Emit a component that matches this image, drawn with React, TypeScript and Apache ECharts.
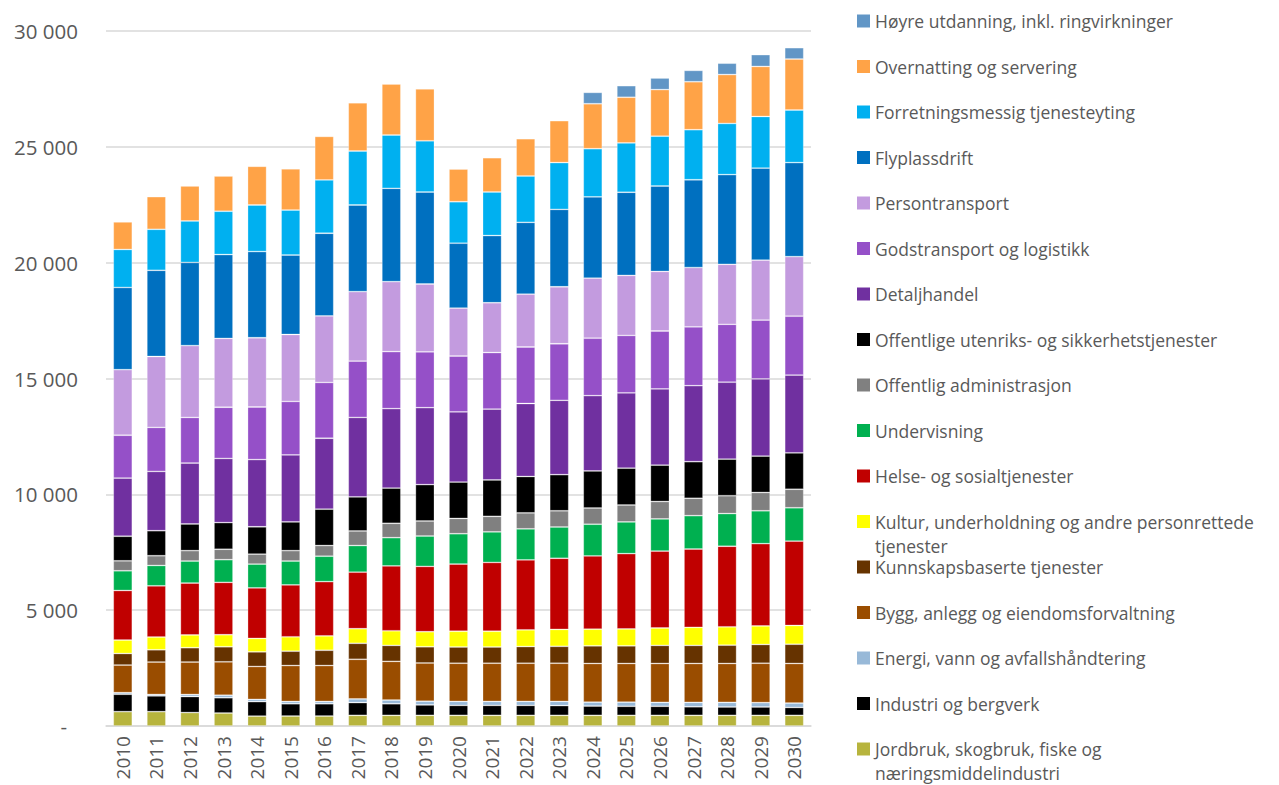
import React, { useEffect, useRef } from 'react';
import * as echarts from 'echarts';

const years = ['2010','2011','2012','2013','2014','2015','2016','2017','2018','2019','2020','2021','2022','2023','2024','2025','2026','2027','2028','2029','2030'];

const yTicks = [0, 5000, 10000, 15000, 20000, 25000, 30000];

// Series values, bottom of stack first
const jordbruk = [620,620,580,560,430,430,430,460,460,460,460,460,460,460,460,460,460,460,460,460,460];
const industri = [750,680,690,660,620,530,530,550,500,450,430,430,430,420,400,390,390,370,360,360,340];
const energi = [70,60,90,110,100,100,100,160,160,160,170,170,170,180,170,180,170,190,200,190,190];
const bygg = [1190,1400,1400,1440,1420,1550,1550,1710,1670,1650,1650,1650,1650,1650,1670,1670,1680,1680,1680,1700,1710];
const kunnskap = [500,530,620,650,630,620,660,690,690,700,700,700,720,730,760,760,780,780,790,810,830];
const kultur = [580,550,550,520,580,620,620,630,630,650,680,680,720,730,720,730,750,780,790,800,810];
const helse = [2140,2210,2240,2260,2180,2240,2340,2440,2800,2820,2900,2970,3020,3070,3160,3250,3320,3380,3480,3550,3640];
const undervisning = [850,880,950,980,1030,1030,1100,1150,1220,1310,1310,1320,1340,1350,1370,1370,1390,1440,1410,1420,1440];
const offAdmin = [430,420,450,450,430,450,460,630,620,650,660,670,690,700,700,730,750,750,770,790,800];
const offUtenriks = [1060,1080,1150,1150,1180,1240,1570,1470,1520,1570,1570,1570,1570,1560,1600,1590,1570,1580,1580,1570,1570];
const detaljhandel = [2510,2560,2630,2770,2900,2890,3060,3430,3430,3320,3030,3060,3150,3210,3250,3250,3290,3280,3320,3330,3360];
const godstransport = [1850,1900,1970,2210,2270,2310,2410,2430,2460,2410,2410,2440,2440,2440,2480,2480,2500,2540,2500,2540,2540];
const persontransport = [2830,3060,3100,2970,2990,2890,2870,3000,3020,2930,2070,2150,2280,2460,2590,2590,2570,2560,2590,2590,2570];
const flyplass = [3550,3720,3590,3620,3720,3430,3570,3740,4030,3970,2800,2900,3100,3340,3510,3590,3690,3790,3870,3970,4060];
const forretning = [1640,1770,1790,1870,2010,1940,2300,2330,2300,2210,1790,1880,2000,2020,2080,2130,2150,2160,2210,2230,2270];
const overnatting = [1190,1410,1510,1520,1670,1780,1880,2080,2200,2240,1410,1480,1610,1810,1940,1970,2010,2070,2110,2160,2200];
const hoyreUtd = [null,null,null,null,null,null,null,null,null,null,null,null,null,null,490,500,500,490,490,510,490];

const seriesNames = [
  'Jordbruk, skogbruk, fiske og\nnæringsmiddelindustri',
  'Industri og bergverk',
  'Energi, vann og avfallshåndtering',
  'Bygg, anlegg og eiendomsforvaltning',
  'Kunnskapsbaserte tjenester',
  'Kultur, underholdning og andre personrettede\ntjenester',
  'Helse- og sosialtjenester',
  'Undervisning',
  'Offentlig administrasjon',
  'Offentlige utenriks- og sikkerhetstjenester',
  'Detaljhandel',
  'Godstransport og logistikk',
  'Persontransport',
  'Flyplassdrift',
  'Forretningsmessig tjenesteyting',
  'Overnatting og servering',
  'Høyre utdanning, inkl. ringvirkninger',
];
const seriesData = [jordbruk, industri, energi, bygg, kunnskap, kultur, helse, undervisning, offAdmin, offUtenriks, detaljhandel, godstransport, persontransport, flyplass, forretning, overnatting, hoyreUtd];
const seriesColors = ['#B7B43D','#000000','#98B9D8','#9A4D00','#663300','#FFFF00','#C00000','#00B050','#808080','#000000','#7030A0','#9550C8','#C39BDF','#0070C0','#00B0F0','#FFA347','#6196C6'];

const FONT = 'Open Sans';
const TEXT = '#595959';

function fmt(v: number) {
  if (v === 0) return '{d|-}';
  const s = String(Math.round(v));
  return s.replace(/\B(?=(\d{3})+(?!\d))/g, ' ');
}

export default function App() {
  const ref = useRef<HTMLDivElement>(null);
  useEffect(() => {
    const chart = echarts.init(ref.current!, null, { renderer: 'svg' });
    const n = seriesNames.length;
    const legendGraphics: any[] = [];
    for (let k = 0; k < n; k++) {
      const idx = n - 1 - k;
      const cy = 21 + k * 45.5;
      legendGraphics.push({
        type: 'rect',
        shape: { x: 857, y: cy - 6.5, width: 13, height: 13 },
        style: { fill: seriesColors[idx] },
      });
      legendGraphics.push({
        type: 'text',
        x: 875,
        y: cy - 12,
        style: {
          text: seriesNames[idx],
          fill: TEXT,
          fontFamily: FONT,
          fontSize: 17.5,
          lineHeight: 24,
          verticalAlign: 'top',
          align: 'left',
        },
      });
    }
    chart.setOption({
      animation: false,
      backgroundColor: '#ffffff',
      textStyle: { fontFamily: FONT },
      grid: { left: 106, right: 468, top: 31, bottom: 59, containLabel: false, outerBoundsMode: 'none' },
      xAxis: {
        type: 'category',
        data: years,
        axisLine: { lineStyle: { color: '#d9d9d9', width: 1.5 } },
        axisTick: { show: false },
        axisLabel: { rotate: 90, fontSize: 19, color: TEXT, margin: 10, interval: 0, fontFamily: FONT },
      },
      yAxis: {
        type: 'value',
        min: yTicks[0],
        max: yTicks[yTicks.length - 1],
        interval: yTicks[1] - yTicks[0],
        axisLine: { show: false },
        axisTick: { show: false },
        splitLine: { lineStyle: { color: '#d9d9d9', width: 1.5 } },
        axisLabel: {
          color: TEXT,
          fontSize: 20.5,
          margin: 28,
          fontFamily: FONT,
          formatter: fmt,
          rich: { d: { color: TEXT, fontSize: 20.5, fontFamily: FONT, padding: [0, 11, 0, 0] } },
        },
      },
      series: seriesNames.map((name, i) => ({
        name,
        type: 'bar',
        stack: 'total',
        barWidth: 19,
        data: seriesData[i],
        itemStyle: { color: seriesColors[i], borderColor: 'rgba(255,255,255,0.35)', borderWidth: 0.8 },
        emphasis: { disabled: true },
      })),
      graphic: legendGraphics,
    });
    return () => chart.dispose();
  }, []);
  return <div ref={ref} style={{ position: 'fixed', left: 0, top: 0, width: 1279, height: 785 }} />;
}
